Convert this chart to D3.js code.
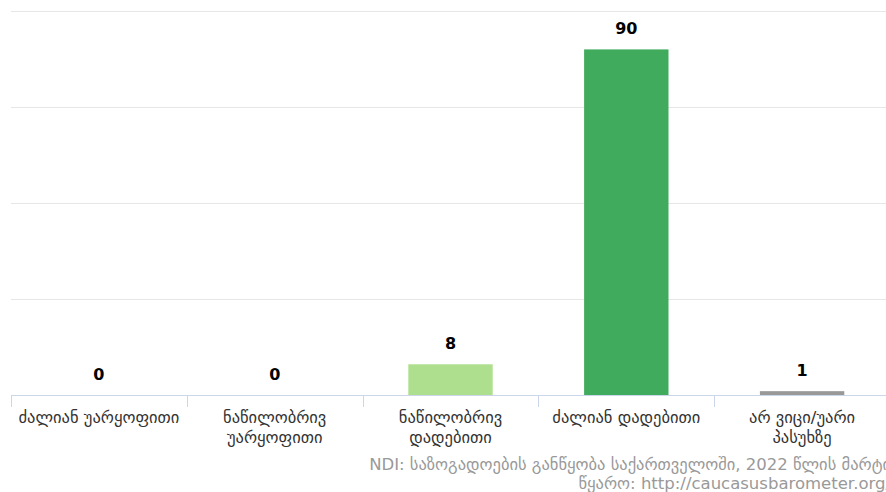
<!DOCTYPE html>
<html>
<head>
<meta charset="utf-8">
<script src="https://cdn.jsdelivr.net/npm/d3@7"></script>
<style>
  body { margin: 0; background: #fff; overflow: hidden; }
  svg { display: block; font-family: "DejaVu Sans", sans-serif; }
</style>
</head>
<body>
<svg id="chart" width="886" height="492"></svg>
<script>
// chart data
var categories = [
    ['ძალიან უარყოფითი'],
    ['ნაწილობრივ', 'უარყოფითი'],
    ['ნაწილობრივ', 'დადებითი'],
    ['ძალიან დადებითი'],
    ['არ ვიცი/უარი', 'პასუხზე']
];
var values = [0, 0, 8, 90, 1];
var barColors = ['#d7301f', '#fc8d59', '#addf8e', '#41ab5d', '#999999'];
var yTicks = [0, 25, 50, 75, 100];
var credits = [
    'NDI: საზოგადოების განწყობა საქართველოში, 2022 წლის მარტი',
    'წყარო: http://caucasusbarometer.org/'
];

var svg = d3.select('#chart');

var plotLeft = 11, plotRight = 890, plotTop = 11, plotBottom = 395;

var x = d3.scaleBand()
    .domain(d3.range(values.length))
    .range([plotLeft, plotRight])
    .paddingInner(0.52)
    .paddingOuter(0.26);

var y = d3.scaleLinear()
    .domain([0, 100])
    .range([plotBottom, plotTop]);

// grid lines
svg.append('g')
    .selectAll('line')
    .data(yTicks.slice(1))
    .enter()
    .append('line')
    .attr('x1', plotLeft)
    .attr('x2', 886)
    .attr('y1', function (d) { return Math.round(y(d)) + 0.5; })
    .attr('y2', function (d) { return Math.round(y(d)) + 0.5; })
    .attr('stroke', '#e6e6e6')
    .attr('stroke-width', 1);

// bars
svg.append('g')
    .selectAll('rect')
    .data(values)
    .enter()
    .append('rect')
    .attr('x', function (d, i) { return x(i); })
    .attr('width', x.bandwidth())
    .attr('y', function (d) { return y(d); })
    .attr('height', function (d) { return plotBottom - y(d); })
    .attr('fill', function (d, i) { return barColors[i]; });

// value labels
svg.append('g')
    .selectAll('text')
    .data(values)
    .enter()
    .append('text')
    .attr('x', function (d, i) { return x(i) + x.bandwidth() / 2; })
    .attr('y', function (d) { return y(d) - 15; })
    .attr('text-anchor', 'middle')
    .attr('font-size', '16px')
    .attr('font-weight', 'bold')
    .attr('fill', '#000')
    .text(function (d) { return d; });

// x axis
var step = x.step();
var axis = svg.append('g');
axis.append('line')
    .attr('x1', plotLeft)
    .attr('x2', 886)
    .attr('y1', plotBottom + 0.5)
    .attr('y2', plotBottom + 0.5)
    .attr('stroke', '#ccd6eb');

axis.selectAll('line.tick')
    .data(d3.range(values.length + 1))
    .enter()
    .append('line')
    .attr('class', 'tick')
    .attr('x1', function (d) { return Math.round(plotLeft + d * step) + 0.5; })
    .attr('x2', function (d) { return Math.round(plotLeft + d * step) + 0.5; })
    .attr('y1', plotBottom)
    .attr('y2', plotBottom + 12)
    .attr('stroke', '#ccd6eb');

axis.selectAll('text')
    .data(categories)
    .enter()
    .append('text')
    .attr('text-anchor', 'middle')
    .attr('font-size', '16.5px')
    .attr('fill', '#333')
    .each(function (d, i) {
        d3.select(this).selectAll('tspan')
            .data(d)
            .enter()
            .append('tspan')
            .attr('x', x(i) + x.bandwidth() / 2)
            .attr('y', function (d2, j) { return 423 + j * 20; })
            .text(function (d2) { return d2; });
    });

// credits
svg.append('g')
    .selectAll('text')
    .data(credits)
    .enter()
    .append('text')
    .attr('x', 891)
    .attr('y', function (d, i) { return 470 + i * 19; })
    .attr('text-anchor', 'end')
    .attr('font-size', '16.5px')
    .attr('fill', '#999')
    .text(function (d) { return d; });
</script>
</body>
</html>
